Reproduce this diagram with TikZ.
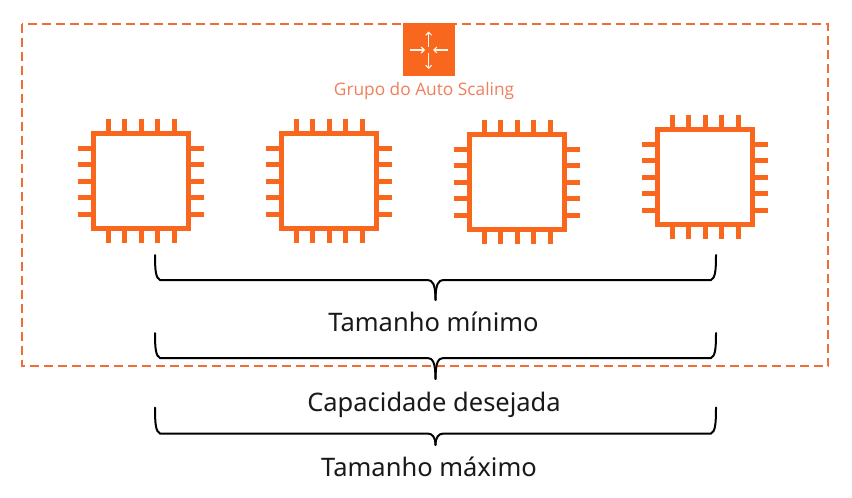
\documentclass[tikz,border=0pt]{standalone}
\usepackage{fontspec}
\setmainfont{Noto Sans}
\newfontfamily\grpfont{Open Sans}
\definecolor{awsorange}{HTML}{F9661E}
\definecolor{dashorange}{HTML}{EE6E36}
\definecolor{grptext}{HTML}{F07F5C}
\tikzset{
  x=1pt,y=-1pt,
  frameline/.style={draw=dashorange,line width=2pt,dash pattern=on 9pt off 5pt},
  chipframe/.style={draw=awsorange,line width=5.2pt,fill=white,line join=miter},
  chippin/.style={draw=awsorange,line width=5pt},
  bracket/.style={draw=black,line width=2pt,line cap=round},
  whitearrow/.style={draw=white!92!orange,line width=1.1pt,-{Straight Barb[length=3pt,width=6pt]}},
  label/.style={anchor=base,font=\fontsize{25.5}{29}\selectfont,text=black!90,inner sep=0pt},
  pics/chip/.style={code={
    \foreach \d in {-33,-16.5,0,16.5,33}{
      \draw[chippin] (\d,-62) -- (\d,-48);
      \draw[chippin] (\d,62) -- (\d,48);
      \draw[chippin] (-63,\d) -- (-48,\d);
      \draw[chippin] (63,\d) -- (48,\d);
    }
    \draw[chipframe] (-47.5,-47.5) rectangle (47.5,47.5);
  }},
  pics/curly/.style n args={3}{code={
    % #1 tip drop below the bar, #2 half width, #3 height of the ends above the bar
    \draw[bracket] (-#2,-#3) .. controls (-#2,-8) and (-#2+1,-2) .. (-#2+5,0)
      -- (-8,0) .. controls (-3,0) and (0,4) .. (0,#1);
    \draw[bracket] (#2,-#3) .. controls (#2,-8) and (#2-1,-2) .. (#2-5,0)
      -- (8,0) .. controls (3,0) and (0,4) .. (0,#1);
  }}
}
\usetikzlibrary{arrows.meta}
\begin{document}
\begin{tikzpicture}
\useasboundingbox (0,0) rectangle (852,498);
\fill[white] (0,0) rectangle (852,498);
\draw[frameline] (22,23.5) rectangle (828,366);
\fill[awsorange] (403,23) rectangle (455,76);
\draw[whitearrow] (428.7,47) -- (428.7,31.5);
\draw[whitearrow] (428.7,53) -- (428.7,69);
\draw[whitearrow] (410,50) -- (425,50);
\draw[whitearrow] (447.7,50) -- (433,50);
\node[anchor=base,inner sep=0pt,text=grptext,font=\grpfont\fontsize{17.3}{20}\selectfont] (grp) at (424,95) {Grupo do Auto Scaling};
\pic at (141,181) {chip};
\pic at (329,181) {chip};
\pic at (517,182) {chip};
\pic at (705,177) {chip};
\pic at (435.5,280) {curly={20}{280.5}{25}};
\pic at (435.5,358) {curly={21}{280.5}{25}};
\pic at (435.5,433.5) {curly={11.5}{280.5}{26}};
\node[label] (minimo) at (433.5,331) {Tamanho mínimo};
\node[label] (desejada) at (434,411.5) {Capacidade desejada};
\node[label] (maximo) at (429,476.5) {Tamanho máximo};
\end{tikzpicture}
\end{document}
